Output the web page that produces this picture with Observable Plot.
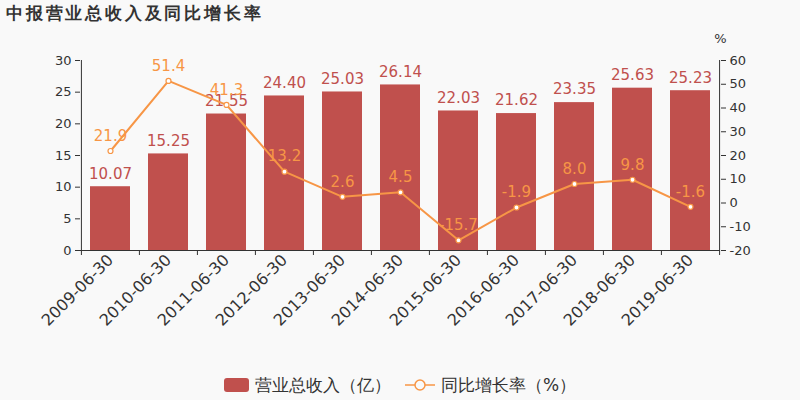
<!DOCTYPE html>
<html>
<head>
<meta charset="utf-8">
<script src="https://cdn.jsdelivr.net/npm/d3@7"></script>
<script src="https://cdn.jsdelivr.net/npm/@observablehq/plot@0.6"></script>
<style>
  html, body { margin: 0; padding: 0; background: #f9f9f9; }
  body { width: 800px; height: 400px; overflow: hidden; font-family: "DejaVu Sans", sans-serif; }
  #title { height: 28px; line-height: 26px; padding-left: 6px; font-size: 17px; font-weight: bold; color: #333; letter-spacing: 2.8px; }
  #legend { height: 30px; display: flex; justify-content: center; align-items: center; font-size: 17px; color: #333; gap: 14px; }
  .lg { display: flex; align-items: center; gap: 6px; }
</style>
</head>
<body>
<div id="title">中报营业总收入及同比增长率</div>
<div id="chart"></div>
<div id="legend">
  <div class="lg"><span style="display:inline-block;width:25px;height:14px;background:#c0504d;border-radius:3px"></span><span>营业总收入（亿）</span></div>
  <div class="lg"><svg width="30" height="14"><line x1="0" y1="7" x2="30" y2="7" stroke="#f79646" stroke-width="1.5"/><circle cx="15" cy="7" r="5" fill="#f9f9f9" stroke="#f79646" stroke-width="1.5"/></svg><span>同比增长率（%）</span></div>
</div>
<script>
const categories = ["2009-06-30","2010-06-30","2011-06-30","2012-06-30","2013-06-30","2014-06-30","2015-06-30","2016-06-30","2017-06-30","2018-06-30","2019-06-30"];
const revenue = [10.07, 15.25, 21.55, 24.40, 25.03, 26.14, 22.03, 21.62, 23.35, 25.63, 25.23];
const growth = [21.9, 51.4, 41.3, 13.2, 2.6, 4.5, -15.7, -1.9, 8.0, 9.8, -1.6];
const leftTicks = [0, 5, 10, 15, 20, 25, 30];
const rightTicks = [-20, -10, 0, 10, 20, 30, 40, 50, 60];

const barColor = "#c0504d";
const lineColor = "#f79646";
const conv = v => (v + 20) * 30 / 80;
const rows = categories.map((c, i) => ({c, rev: revenue[i], g: growth[i], gy: conv(growth[i])}));
const step = 640 / 11;
const first = categories[0], last = categories[categories.length - 1];

const chart = Plot.plot({
  width: 800,
  height: 342,
  marginTop: 32,
  marginBottom: 120,
  marginLeft: 80,
  marginRight: 80,
  style: {background: "transparent", fontFamily: "DejaVu Sans, sans-serif", color: "#333"},
  x: {domain: categories, paddingInner: 0.31, paddingOuter: 0.155},
  y: {domain: [0, 30]},
  marks: [
    Plot.barY(rows, {x: "c", y: "rev", fill: barColor}),
    Plot.ruleY([0], {stroke: "#333"}),
    Plot.ruleX([first], {x: d => d, dx: -step / 2, y1: 0, y2: 30, stroke: "#333"}),
    Plot.ruleX([last], {x: d => d, dx: step / 2, y1: 0, y2: 30, stroke: "#333"}),
    Plot.ruleX(categories, {x: d => d, dx: -step / 2, y1: 0, y2: -5 * 30 / 190, stroke: "#333", clip: false}),
    Plot.ruleX([last], {x: d => d, dx: step / 2, y1: 0, y2: -5 * 30 / 190, stroke: "#333", clip: false}),
    Plot.axisX({tickSize: 0, tickRotate: -45, tickPadding: 7, fontSize: 16, fill: "#333", label: null}),
    Plot.axisY({ticks: leftTicks, tickSize: 5, tickPadding: 4, fontSize: 13, fill: "#333", stroke: "#333", label: null}),
    Plot.axisY({anchor: "right", ticks: rightTicks.map(conv), tickFormat: v => String(Math.round(v * 80 / 30 - 20)), tickSize: 5, tickPadding: 4, fontSize: 13, fill: "#333", stroke: "#333", label: null}),
    Plot.text(["%"], {frameAnchor: "top-right", textAnchor: "middle", lineAnchor: "middle", dy: -22, text: d => d, fontSize: 13, fill: "#333"}),
    Plot.text(rows, {x: "c", y: "rev", text: d => d.rev.toFixed(2), dy: -13, fontSize: 15, fill: barColor}),
    Plot.line(rows, {x: "c", y: "gy", stroke: lineColor, strokeWidth: 2}),
    Plot.dot(rows, {x: "c", y: "gy", r: 2.5, fill: "white", stroke: lineColor, strokeWidth: 1.2}),
    Plot.text(rows, {x: "c", y: "gy", text: d => d.g.toFixed(1), dy: -15, fontSize: 15, fill: lineColor})
  ]
});
document.getElementById("chart").appendChild(chart);
</script>
</body>
</html>
